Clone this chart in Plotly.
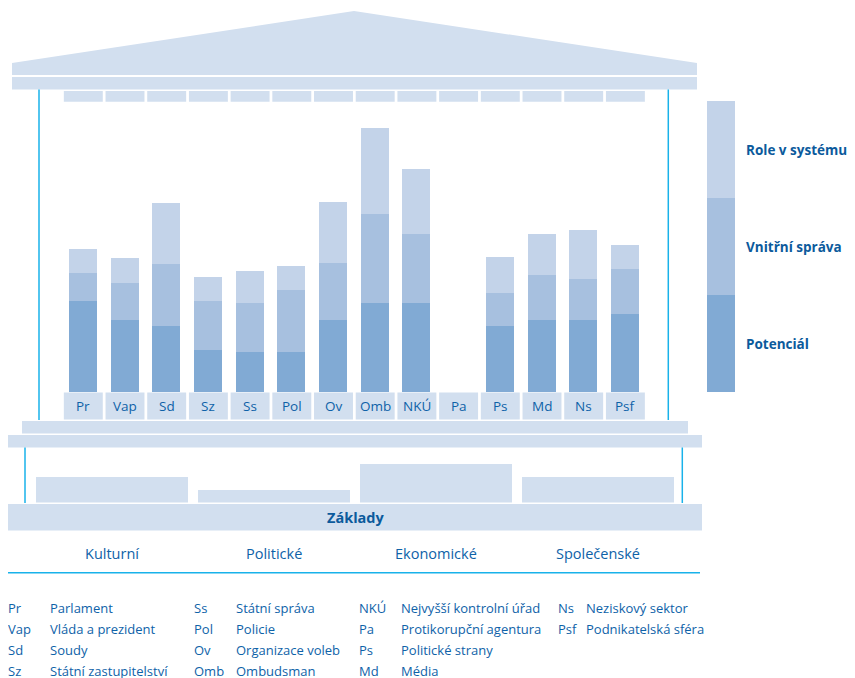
import plotly.graph_objects as go

# ---------------- data ----------------
abbrev = ["Pr", "Vap", "Sd", "Sz", "Ss", "Pol", "Ov", "Omb", "NKÚ", "Pa", "Ps", "Md", "Ns", "Psf"]
full_names = ["Parlament", "Vláda a prezident", "Soudy", "Státní zastupitelství",
              "Státní správa", "Policie", "Organizace voleb", "Ombudsman",
              "Nejvyšší kontrolní úřad", "Protikorupční agentura", "Politické strany",
              "Média", "Neziskový sektor", "Podnikatelská sféra"]
potencial = [91, 72, 66, 42, 40, 40, 72, 89, 89, 0, 66, 72, 72, 78]
vnitrni_sprava = [28, 37, 62, 49, 49, 62, 57, 89, 69, 0, 33, 45, 41, 45]
role_v_systemu = [24, 25, 61, 24, 32, 24, 61, 86, 65, 0, 36, 41, 49, 24]
series_names = ["Potenciál", "Vnitřní správa", "Role v systému"]

zaklady_cats = ["Kulturní", "Politické", "Ekonomické", "Společenské"]
zaklady_vals = [2, 1, 3, 2]

# ---------------- styles ----------------
WIN_W, WIN_H = 855, 678
OFF = 8                      # page body margin
W, H = WIN_W - OFF, WIN_H - OFF
C_BOX = "#d2dfef"
C_ROLE = "#c3d3e9"
C_VS = "#a7c0df"
C_POT = "#81aad4"
C_TXT = "#0e62a8"
C_TXT_B = "#0b5a9c"
C_CYAN = "#19b2ea"
FONT = "Open Sans"
colors = [C_POT, C_VS, C_ROLE]

def dx(px):
    return (px - OFF) / W

def dy(py):
    return 1 - (py - OFF) / H

fig = go.Figure()

# pillar bars (stacked)
for name, vals, col in zip(series_names, [potencial, vnitrni_sprava, role_v_systemu], colors):
    fig.add_trace(go.Bar(x=abbrev, y=vals, name=name, marker=dict(color=col, line=dict(width=0)),
                         width=0.67, xaxis="x2", yaxis="y2", showlegend=False, hoverinfo="x+y+name"))

# foundation bars
fig.add_trace(go.Bar(x=zaklady_cats, y=zaklady_vals, marker=dict(color=C_BOX, line=dict(width=0)),
                     width=0.944, xaxis="x3", yaxis="y3", showlegend=False, hoverinfo="x+y"))

shapes = []
def rect(x0, y0, x1, y1, color=C_BOX, xref="x", layer="below"):
    shapes.append(dict(type="rect", xref=xref, yref="y", x0=x0, y0=y0, x1=x1, y1=y1,
                       fillcolor=color, line=dict(width=0), layer=layer))

def vline(x, y0, y1):
    shapes.append(dict(type="line", xref="x", yref="y", x0=x, x1=x, y0=y0, y1=y1,
                       line=dict(color=C_CYAN, width=1.5), layer="below"))

# roof
shapes.append(dict(type="path", xref="x", yref="y",
                   path="M 12 75 L 12 63 L 354 11 L 697 63 L 697 75 Z",
                   fillcolor=C_BOX, line=dict(width=0), layer="below"))
rect(12, 77, 697, 89.5)
# capitals and label boxes
for i in range(len(abbrev)):
    rect(i - 0.467, 91, i + 0.467, 101.7, xref="x2")
    rect(i - 0.467, 392.5, i + 0.467, 419.5, xref="x2")
# steps
rect(22, 421, 688, 433.5)
rect(8, 435, 702, 447.5)
# foundation band
rect(8, 504, 702, 530.5)
# cyan lines
vline(39, 89.5, 420)
vline(668.3, 89.5, 420)
vline(25, 447.5, 503)
vline(682.3, 447.5, 503)
shapes.append(dict(type="line", xref="x", yref="y", x0=8, x1=700, y0=572.7, y1=572.7,
                   line=dict(color=C_CYAN, width=1.5), layer="below"))

# legend bar
leg_y = [(295, 392), (198, 295), (101, 198)]
for (y0, y1), col in zip(leg_y, colors):
    rect(707, y0, 735, y1, color=col)

annotations = []
def txt(x, y, s, size=13, bold=False, xanchor="left", xref="x", color=C_TXT):
    annotations.append(dict(x=x, y=y, xref=xref, yref="y", text=f"<b>{s}</b>" if bold else s,
                            showarrow=False, xanchor=xanchor, yanchor="middle", borderpad=0,
                            xshift=-1.5 if xanchor == "left" else 0,
                            font=dict(family=FONT, size=size, color=color)))

for a in abbrev:
    txt(a, 406, a, size=13.5, xanchor="center", xref="x2")

for (y0, y1), name in zip(leg_y, series_names):
    txt(746, (y0 + y1) / 2 + 0.5, name, size=13.5, bold=True, color=C_TXT_B)

txt(356, 517.5, "Základy", size=14.5, bold=True, xanchor="center", color=C_TXT_B)
for c in zaklady_cats:
    txt(c, 553, c, size=14.5, xanchor="center", xref="x3")

# glossary
col_abbr_x = [8, 194, 359, 558]
col_name_x = [50, 236, 401, 586]
row_y = [608, 629, 650, 670.5]
for k, (a, n) in enumerate(zip(abbrev, full_names)):
    c, r = divmod(k, 4)
    txt(col_abbr_x[c], row_y[r], a, size=13)
    txt(col_name_x[c], row_y[r], n, size=13)

hidden = dict(visible=False, fixedrange=True)
bar_left = 62.45
bar_right = bar_left + 14 * 41.7
found_left, found_right = 30.5, 30.5 + 4 * 162

fig.update_layout(
    width=W, height=H, margin=dict(l=0, r=0, t=0, b=0),
    paper_bgcolor="white", plot_bgcolor="rgba(0,0,0,0)",
    barmode="stack", bargap=0,
    xaxis=dict(range=[OFF, WIN_W], domain=[0, 1], **hidden),
    yaxis=dict(range=[WIN_H, OFF], domain=[0, 1], **hidden),
    xaxis2=dict(type="category", range=[-0.5, 13.5], domain=[dx(bar_left), dx(bar_right)],
                anchor="y2", **hidden),
    yaxis2=dict(range=[0, 300], domain=[dy(392), dy(92)], anchor="x2", **hidden),
    xaxis3=dict(type="category", range=[-0.5, 3.5], domain=[dx(found_left), dx(found_right)],
                anchor="y3", **hidden),
    yaxis3=dict(range=[0, 4], domain=[dy(502.5), dy(450.5)], anchor="x3", **hidden),
    shapes=shapes, annotations=annotations, showlegend=False,
)

fig.write_html("out.html")
